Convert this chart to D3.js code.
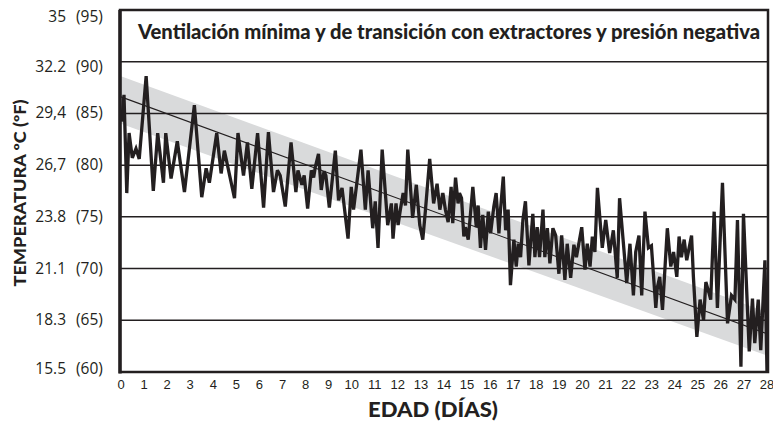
<!DOCTYPE html>
<html>
<head>
<meta charset="utf-8">
<script src="https://cdn.jsdelivr.net/npm/d3@7"></script>
<style>
  body { margin: 0; background: #fff; }
  text { fill: #231f20; }
</style>
</head>
<body>
<svg id="chart" width="773" height="423"></svg>
<script>
// edad (días) y temperatura (°F)
const days = [
  0.03, 0.13, 0.25, 0.35, 0.49, 0.65, 0.79, 1.09, 1.40, 1.59, 1.84, 1.94, 2.17, 2.44, 2.75, 3.18,
  3.50, 3.69, 3.83, 4.15, 4.34, 4.48, 4.92, 5.07, 5.31, 5.48, 5.67, 5.92, 6.18, 6.39, 6.61, 6.78,
  6.90, 7.12, 7.37, 7.58, 7.67, 7.84, 7.94, 8.09, 8.25, 8.35, 8.42, 8.56, 8.68, 8.80, 8.88, 9.03,
  9.29, 9.43, 9.58, 9.84, 9.98, 10.08, 10.40, 10.59, 10.71, 10.91, 11.02, 11.14, 11.32, 11.56, 11.72, 11.79,
  11.92, 12.01, 12.11, 12.23, 12.33, 12.43, 12.64, 12.80, 12.95, 13.08, 13.19, 13.38, 13.55, 13.70, 13.82, 13.95,
  14.06, 14.18, 14.31, 14.38, 14.50, 14.61, 14.67, 14.76, 14.86, 14.93, 15.05, 15.25, 15.40, 15.48, 15.58, 15.68,
  15.80, 15.92, 16.02, 16.16, 16.26, 16.38, 16.45, 16.57, 16.67, 16.78, 16.88, 17.03, 17.13, 17.22, 17.32, 17.42,
  17.53, 17.68, 17.85, 17.94, 18.04, 18.14, 18.29, 18.37, 18.48, 18.59, 18.72, 18.84, 18.98, 19.10, 19.24, 19.34,
  19.49, 19.63, 19.74, 19.97, 20.11, 20.21, 20.33, 20.43, 20.54, 20.65, 20.86, 21.01, 21.18, 21.34, 21.51, 21.61,
  21.80, 21.92, 22.06, 22.21, 22.31, 22.45, 22.57, 22.71, 22.86, 22.99, 23.18, 23.25, 23.35, 23.47, 23.68, 23.83,
  23.95, 24.09, 24.19, 24.29, 24.41, 24.52, 24.73, 24.81, 24.96, 25.10, 25.25, 25.35, 25.49, 25.56, 25.71, 25.85,
  26.07, 26.29, 26.46, 26.61, 26.72, 26.87, 26.98, 27.23, 27.37, 27.47, 27.62, 27.73, 27.91, 28.0
];
const tempF = [
  84.2, 86.8, 77.3, 83.1, 80.7, 81.6, 80.6, 88.6, 77.5, 83.1, 78.3, 83.1, 78.7, 82.3, 77.4, 85.8,
  76.9, 79.7, 78.3, 83.1, 79.2, 81.4, 76.8, 83.1, 79.0, 82.2, 77.7, 83.1, 75.9, 83.2, 77.4, 79.5,
  79.0, 76.0, 82.2, 77.4, 79.5, 78.1, 79.0, 75.8, 79.5, 78.8, 79.8, 81.1, 77.6, 79.4, 79.0, 75.9,
  81.4, 76.6, 77.8, 72.9, 77.9, 75.7, 81.5, 75.7, 79.5, 73.9, 76.5, 72.0, 81.5, 74.2, 76.3, 72.9,
  76.3, 74.2, 75.7, 77.3, 76.1, 81.5, 74.9, 78.1, 74.2, 72.8, 75.5, 80.6, 76.3, 78.2, 75.7, 77.3,
  75.7, 74.5, 77.9, 74.4, 78.8, 76.3, 77.3, 76.8, 73.1, 74.0, 72.8, 77.9, 74.0, 76.1, 72.0, 75.2,
  71.8, 75.5, 73.4, 76.0, 77.3, 73.4, 75.7, 78.9, 73.7, 75.7, 68.4, 72.8, 70.2, 72.4, 71.1, 74.7,
  76.5, 70.3, 75.3, 71.1, 74.0, 71.1, 75.7, 71.1, 73.9, 70.5, 73.9, 73.2, 69.5, 73.2, 68.9, 72.4,
  69.1, 72.3, 71.1, 74.0, 69.9, 72.4, 70.2, 73.1, 71.6, 77.8, 72.0, 74.7, 71.5, 73.7, 69.1, 76.8,
  71.8, 68.6, 72.4, 67.4, 71.6, 73.2, 67.4, 75.5, 72.0, 72.2, 66.2, 68.2, 69.2, 66.0, 73.9, 70.2,
  71.6, 69.2, 73.1, 71.1, 72.8, 70.8, 73.2, 69.2, 63.4, 67.0, 65.0, 68.7, 67.6, 67.0, 75.5, 66.2,
  78.3, 64.7, 67.4, 67.0, 74.7, 60.5, 75.3, 62.0, 67.1, 62.8, 67.0, 62.1, 70.8, 60.0
];

// recta de tendencia y franja gris (°F en los días 0 y 28)
const trendDays = [0, 28];
const trendF = [86.6, 63.7];
const bandHighF = [88.6, 65.8];
const bandLowF = [84.0, 61.6];

const yTicksF = [95, 90, 85, 80, 75, 70, 65, 60];
const yTicksC = ["35", "32.2", "29,4", "26,7", "23.8", "21.1", "18.3", "15.5"];
const xTicks = d3.range(0, 29);

const title = "Ventilación mínima y de transición con extractores y presión negativa";
const xTitle = "EDAD (DÍAS)";
const yTitle = "TEMPERATURA ºC (ºF)";

const ink = "#231f20";
const svg = d3.select("#chart");
const plot = { left: 120, right: 768, top: 10, bottom: 372 };

const x = d3.scaleLinear().domain([0, 28]).range([121, 767]);
const y = d3.scaleLinear().domain([60, 95]).range([plot.bottom, plot.top]);

svg.append("rect").attr("width", 773).attr("height", 423).attr("fill", "white");

// franja
const band = trendDays.map((d, i) => ({ d, hi: bandHighF[i], lo: bandLowF[i] }));
svg.append("path")
  .attr("fill", "#d9dadb")
  .attr("d", d3.area().x(p => x(p.d)).y0(p => y(p.lo)).y1(p => y(p.hi))(band));

// líneas horizontales
svg.append("g")
  .selectAll("line")
  .data(yTicksF.slice(1, -1))
  .enter()
  .append("line")
  .attr("x1", plot.left).attr("x2", plot.right)
  .attr("y1", d => y(d)).attr("y2", d => y(d))
  .attr("stroke", ink)
  .attr("stroke-width", 1.5);

// tendencia
svg.append("path")
  .attr("fill", "none")
  .attr("stroke", ink)
  .attr("stroke-width", 1.1)
  .attr("d", d3.line().x(d => x(d)).y((d, i) => y(trendF[i]))(trendDays));

// serie de temperatura
svg.append("path")
  .attr("fill", "none")
  .attr("stroke", ink)
  .attr("stroke-width", 3.3)
  .attr("stroke-linejoin", "miter")
  .attr("stroke-miterlimit", 3)
  .attr("d", d3.line().x(d => x(d)).y((d, i) => y(tempF[i]))(days));

// marco
svg.append("rect")
  .attr("x", plot.left).attr("y", plot.top)
  .attr("width", plot.right - plot.left).attr("height", plot.bottom - plot.top)
  .attr("fill", "none")
  .attr("stroke", ink)
  .attr("stroke-width", 2.5);
svg.append("line")
  .attr("x1", plot.left).attr("x2", plot.left)
  .attr("y1", plot.top).attr("y2", plot.bottom + 1.5)
  .attr("stroke", ink)
  .attr("stroke-width", 3.5);

// etiquetas eje y
const nudge = v => (v === 95 ? 7 : v === 90 ? 5 : v === 60 ? -3 : 0);
const yLab = svg.append("g")
  .style("font-family", "'Open Sans', sans-serif")
  .style("font-size", "15.5px");
yLab.selectAll("text.c")
  .data(yTicksF)
  .enter()
  .append("text")
  .attr("class", "c")
  .attr("x", 66)
  .attr("y", d => y(d) + nudge(d) + 5)
  .attr("text-anchor", "end")
  .text((d, i) => yTicksC[i]);
yLab.selectAll("text.f")
  .data(yTicksF)
  .enter()
  .append("text")
  .attr("class", "f")
  .attr("x", 76)
  .attr("y", d => y(d) + nudge(d) + 5)
  .text(d => "(" + d + ")");

// etiquetas eje x
svg.append("g")
  .style("font-family", "'Liberation Sans', Arial, sans-serif")
  .style("font-size", "13px")
  .selectAll("text")
  .data(xTicks)
  .enter()
  .append("text")
  .attr("x", d => x(d))
  .attr("y", 389)
  .attr("text-anchor", "middle")
  .text(d => d);

const fit = (sel, w) => sel.attr("textLength", w).attr("lengthAdjust", "spacingAndGlyphs");

// títulos
const t = svg.append("text")
  .attr("x", 449).attr("y", 39)
  .attr("text-anchor", "middle")
  .style("font-family", "Lato, 'Open Sans', sans-serif")
  .style("font-weight", "900")
  .style("font-size", "20px")
  .text(title);
fit(t, 622);

const xt = svg.append("text")
  .attr("x", 433).attr("y", 417)
  .attr("text-anchor", "middle")
  .style("font-family", "Lato, 'Open Sans', sans-serif")
  .style("font-weight", "900")
  .style("font-size", "21px")
  .text(xTitle);
fit(xt, 130);

const yt = svg.append("text")
  .attr("transform", "translate(26,193) rotate(-90)")
  .attr("text-anchor", "middle")
  .style("font-family", "Lato, 'Open Sans', sans-serif")
  .style("font-weight", "900")
  .style("font-size", "16px")
  .text(yTitle);
fit(yt, 187);
</script>
</body>
</html>
